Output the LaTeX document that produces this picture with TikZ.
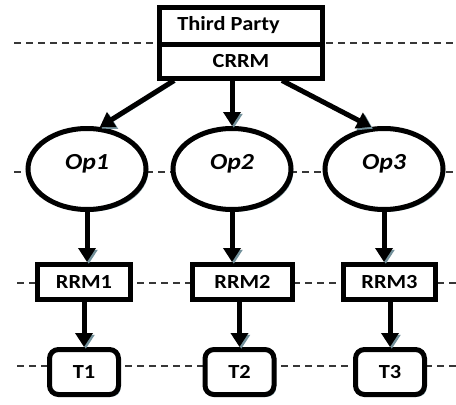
\documentclass[tikz,border=0pt]{standalone}
\usepackage{fontspec}
\setmainfont{Carlito}[FakeStretch=1.12]
\usetikzlibrary{arrows.meta,shadows,shapes.geometric}
\definecolor{shadowc}{RGB}{115,145,155}
\definecolor{dashc}{RGB}{55,55,55}
\begin{document}
\begin{tikzpicture}[x=1pt,y=-1pt,
  every node/.style={font=\fontsize{20}{24}\selectfont\bfseries},
  base/.style={draw=black, line width=5pt, fill=white, inner sep=0pt,
    drop shadow={shadow xshift=2.2pt, shadow yshift=-2.2pt, fill=shadowc, opacity=1}},
  boxnode/.style={base, rectangle, minimum height=35pt},
  opnode/.style={base, ellipse, minimum width=118pt, minimum height=81pt,
    text height=15pt, text depth=15pt,
    font=\fontsize{23}{26}\selectfont\bfseries\itshape},
  tnode/.style={base, rectangle, rounded corners=9pt, minimum width=69pt, minimum height=45pt},
  conn/.style={line width=5pt, -{Triangle[length=14pt,width=17pt]},
    preaction={draw=shadowc, transform canvas={shift={(1.8pt,-1.8pt)}}}},
  guide/.style={dash pattern=on 7pt off 5pt, line width=1.1pt, draw=dashc}]
\useasboundingbox (0,0) rectangle (456,405);

% guide lines
\coordinate (g1a) at (14,43);  \coordinate (g1b) at (456,43);
\coordinate (g2a) at (14,172); \coordinate (g2b) at (456,172);
\coordinate (g3a) at (17,283); \coordinate (g3b) at (456,283);
\coordinate (g4a) at (17,366); \coordinate (g4b) at (456,366);
\draw[guide] (g1a) -- (g1b);
\draw[guide] (g2a) -- (g2b);
\draw[guide] (g3a) -- (g3b);
\draw[guide] (g4a) -- (g4b);

% top box
\node[base, rectangle, minimum width=163pt, minimum height=37pt] (tp) at (241,25.5) {\hspace*{-25pt}Third Party};
\node[base, rectangle, minimum width=163pt, minimum height=34pt] (crrm) at (241,61) {CRRM};

% operators
\node[opnode] (op1) at (87,169) {Op1};
\node[opnode] (op2) at (232,169) {Op2};
\node[opnode] (op3) at (384,169) {Op3};

% RRM boxes
\node[boxnode, minimum width=93pt] (rrm1) at (84,282) {RRM1};
\node[boxnode, minimum width=100pt] (rrm2) at (242.5,282) {RRM2};
\node[boxnode, minimum width=92pt] (rrm3) at (389.5,282) {RRM3};

% terminals
\node[tnode] (t1) at (84,372) {T1};
\node[tnode] (t2) at (239.5,372) {T2};
\node[tnode] (t3) at (390,372) {T3};

% connectors
\draw[conn] ([xshift=17pt]crrm.south west) -- (op1.73);
\draw[conn] (op2.north |- crrm.south) -- (op2.north);
\draw[conn] ([xshift=-43pt]crrm.south east) -- (op3.107);

\draw[conn] (op1.south) -- (op1.south |- rrm1.north);
\draw[conn] (op2.south) -- (op2.south |- rrm2.north);
\draw[conn] (op3.south) -- (op3.south |- rrm3.north);

\draw[conn] (t1.north |- rrm1.south) -- (t1.north);
\draw[conn] (t2.north |- rrm2.south) -- (t2.north);
\draw[conn] (t3.north |- rrm3.south) -- (t3.north);
\end{tikzpicture}
\end{document}
